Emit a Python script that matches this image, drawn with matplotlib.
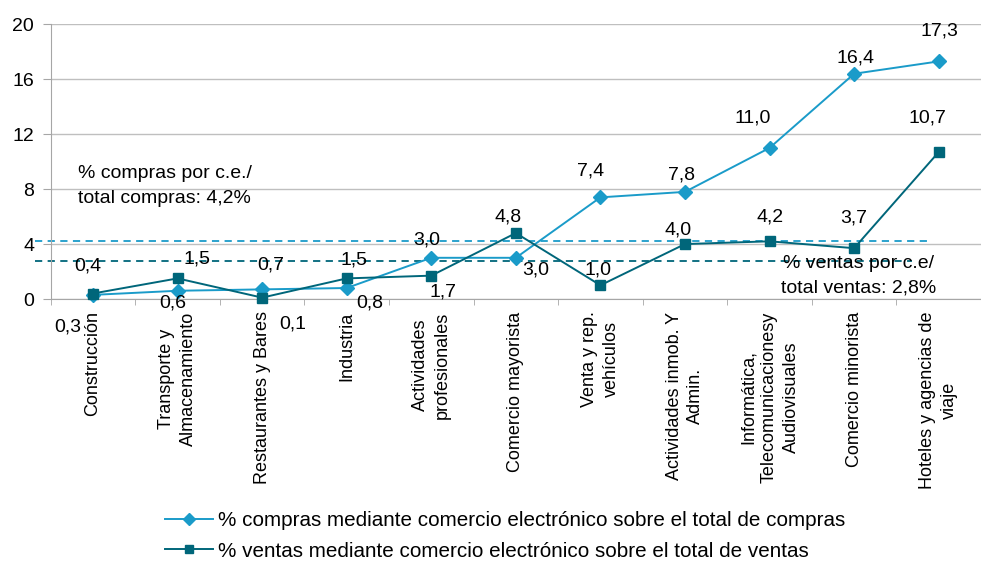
import matplotlib
matplotlib.use("Agg")
import matplotlib.pyplot as plt
from matplotlib.lines import Line2D

plt.rcParams['font.family'] = ['Liberation Sans', 'DejaVu Sans']

categories = [
    "Construcción",
    "Transporte y\nAlmacenamiento",
    "Restaurantes y Bares",
    "Industria",
    "Actividades\nprofesionales",
    "Comercio mayorista",
    "Venta y rep.\nvehículos",
    "Actividades inmob. Y\nAdmin.",
    "Informática,\nTelecomunicacionesy\nAudiovisuales",
    "Comercio minorista",
    "Hoteles y agencias de\nviaje",
]
compras = [0.3, 0.6, 0.7, 0.8, 3.0, 3.0, 7.4, 7.8, 11.0, 16.4, 17.3]
ventas = [0.4, 1.5, 0.1, 1.5, 1.7, 4.8, 1.0, 4.0, 4.2, 3.7, 10.7]
media_compras = 4.2
media_ventas = 2.8
y_ticks = [0, 4, 8, 12, 16, 20]

legend_compras = "% compras mediante comercio electrónico sobre el total de compras"
legend_ventas = "% ventas mediante comercio electrónico sobre el total de ventas"

c_compras = "#1A9BC9"
c_ventas = "#00667A"
grid_c = "#BFBFBF"
axis_c = "#A6A6A6"

# label offsets in pixels (dx, dy), dy positive = up
off_compras = [(-25, -32), (-5, -12), (9, 24), (23, -15), (-5, 18), (20, -12),
               (-10, 26), (-3, 17), (-17, 30), (1, 16), (1, 30)]
off_ventas = [(-5, 28), (19, 19), (31, -26), (7, 18), (12, -16), (-8, 16),
              (-2, 15), (-7, 14), (0, 24), (0, 30), (-11, 34)]

fig = plt.figure(figsize=(9.81, 5.62), dpi=100)
ax = fig.add_axes([50.7 / 981, 263 / 562, (981 - 50.7) / 981, 274.7 / 562])

x = list(range(len(categories)))

ax.set_ylim(0, 20)
ax.set_xlim(-0.5, 10.445)
ax.set_yticks(y_ticks)
ax.set_yticklabels([str(t) for t in y_ticks])
ax.yaxis.grid(True, color=grid_c, lw=1)
ax.set_axisbelow(True)

ax.set_xticks(x)
ax.set_xticklabels(categories, rotation=90, ha='center', va='top',
                   multialignment='center', linespacing=1.35)
ax.set_xticks([i - 0.5 for i in range(len(categories) + 1)], minor=True)
ax.tick_params(axis='x', which='major', length=0, pad=9, labelsize=13, colors='black')
ax.tick_params(axis='x', which='minor', length=4, color=axis_c)
ax.tick_params(axis='y', length=6, color=axis_c, pad=6, labelsize=14)

for s in ['top', 'right']:
    ax.spines[s].set_visible(False)
for s in ['left', 'bottom']:
    ax.spines[s].set_color(axis_c)

# average reference lines
ax.plot([-0.68, 9.86], [media_compras, media_compras], ls=(0, (4, 3)),
        color=c_compras, lw=1.3, clip_on=False)
ax.plot([-0.68, 9.69], [media_ventas, media_ventas], ls=(0, (4, 3)),
        color=c_ventas, lw=1.3, clip_on=False)

ax.plot(x, compras, color=c_compras, lw=1.4, marker='D', ms=7, clip_on=False, zorder=3)
ax.plot(x, ventas, color=c_ventas, lw=1.4, marker='s', ms=7, clip_on=False, zorder=3)

def fmt(v):
    return f"{v:.1f}".replace('.', ',')

for xi, v, (dx, dy) in zip(x, compras, off_compras):
    ax.annotate(fmt(v), (xi, v), xytext=(dx, dy), textcoords='offset pixels',
                ha='center', va='center', fontsize=14)
for xi, v, (dx, dy) in zip(x, ventas, off_ventas):
    ax.annotate(fmt(v), (xi, v), xytext=(dx, dy), textcoords='offset pixels',
                ha='center', va='center', fontsize=14)

ax.text(-0.176, 9.75, "% compras por c.e./\ntotal compras: 4,2%",
        ha='left', va='top', fontsize=14, linespacing=1.6)
ax.text(9.05, 3.2, "% ventas por c.e/\ntotal ventas: 2,8%",
        ha='center', va='top', fontsize=14, linespacing=1.6, multialignment='center')

handles = [
    Line2D([], [], color=c_compras, lw=1.4, marker='D', ms=6),
    Line2D([], [], color=c_ventas, lw=1.4, marker='s', ms=6),
]
fig.legend(handles, [legend_compras, legend_ventas], loc='upper left',
           bbox_to_anchor=(165 / 981, 1 - 511 / 562), frameon=False,
           borderpad=0, borderaxespad=0, handlelength=2.3, handletextpad=0.25,
           labelspacing=0.56, fontsize=14.9)

fig.savefig("out.png", dpi=100)
